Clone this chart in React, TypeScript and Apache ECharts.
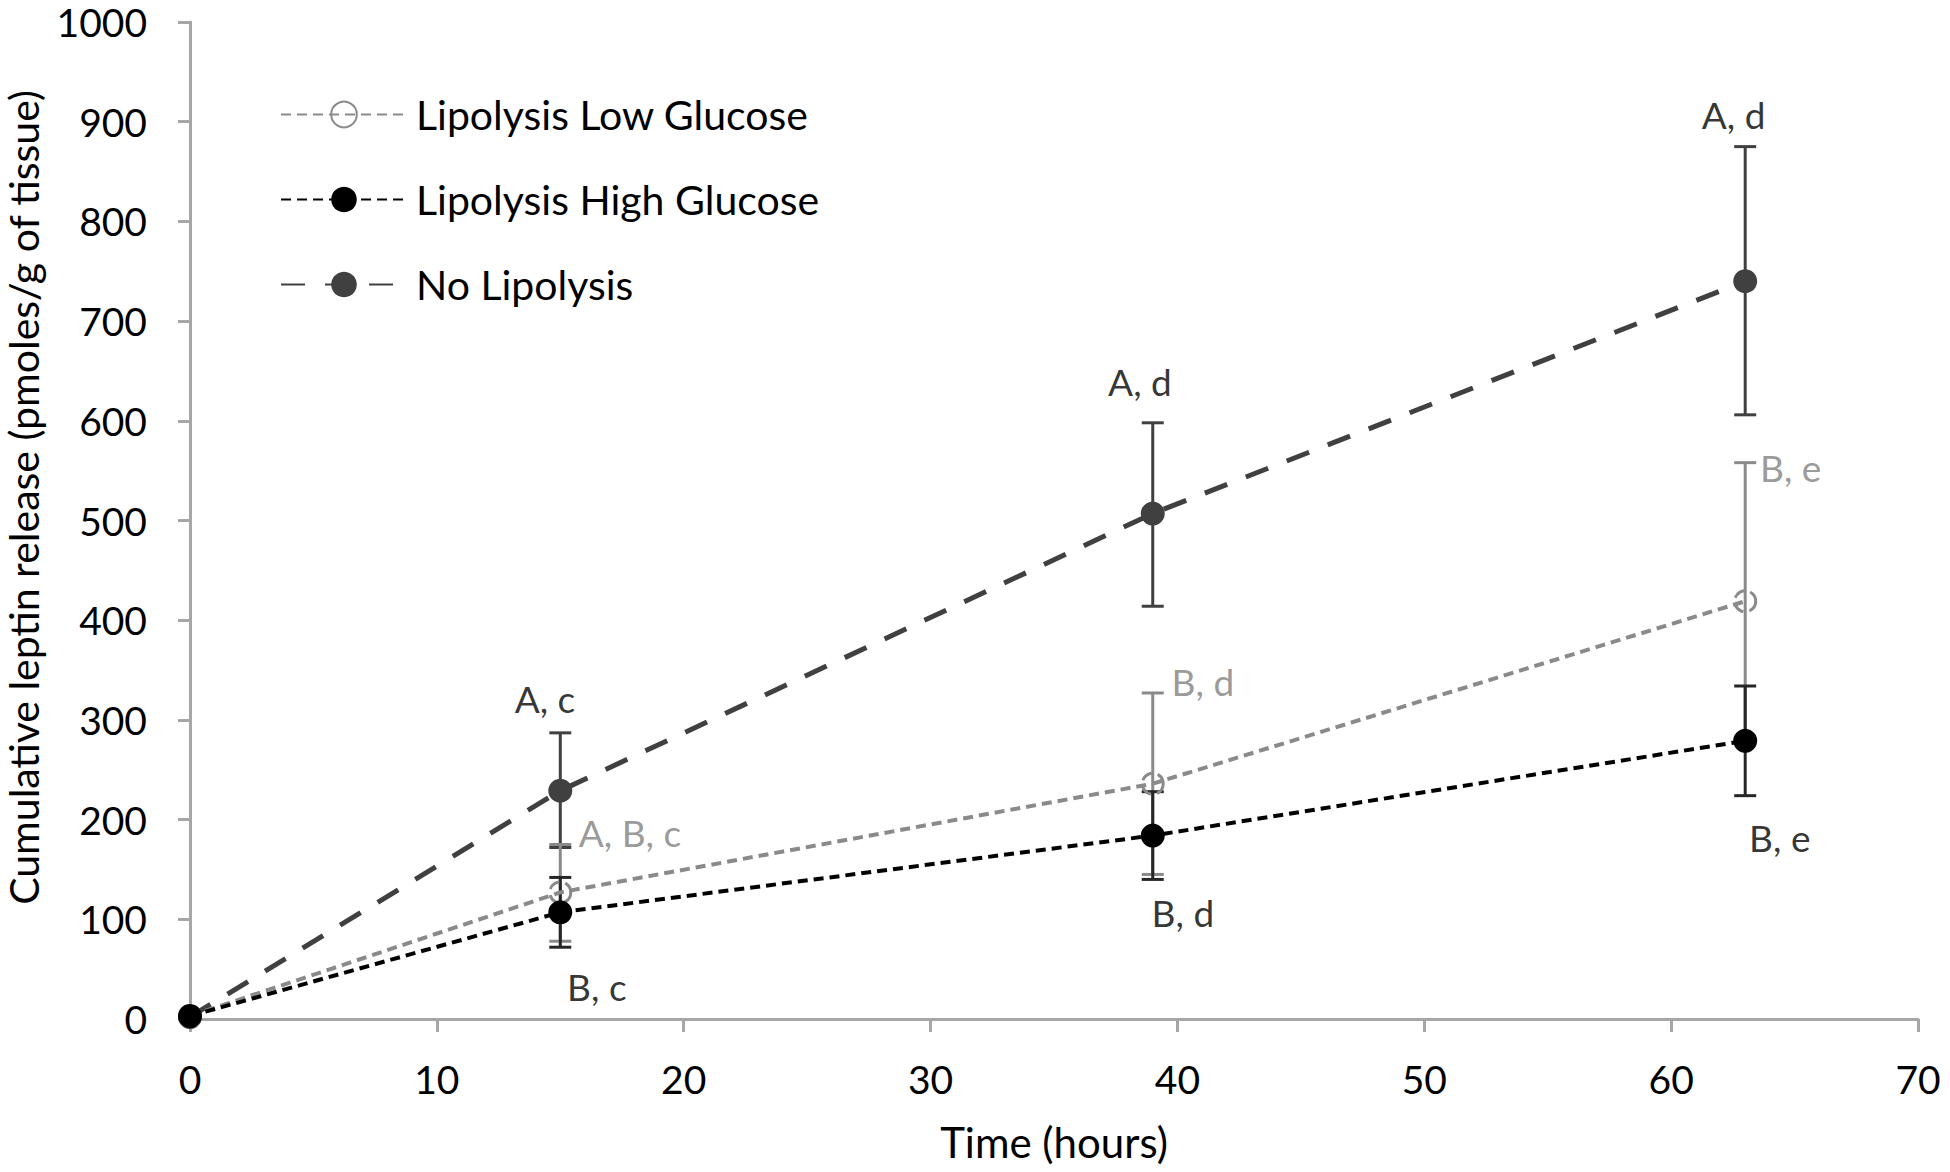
import React, { useEffect, useRef } from "react";
import * as echarts from "echarts";

const xTicks = { min: 0, max: 70, interval: 10 };
const yTicks = { min: 0, max: 1000, interval: 100 };

const seriesNames = ["Lipolysis Low Glucose", "Lipolysis High Glucose", "No Lipolysis"];
const hours = [0, 15, 39, 63];
const lowGlucose = [3, 127, 236, 419];
const highGlucose = [3, 107, 184, 279];
const noLipolysis = [2, 229, 507, 740];

// error bars: [hour, lower, upper]
const lowGlucoseErr = [[15, 78, 175], [39, 145, 327], [63, 280, 558]];
const highGlucoseErr = [[15, 72, 142], [39, 140, 228], [63, 224, 334]];
const noLipolysisErr = [[15, 172, 287], [39, 414, 598], [63, 606, 875]];

// annotations: [hour, value, text, colorKey]
const annotations: [number, number, string, string][] = [
  [14.38, 321, "A, c", "black"],
  [17.82, 187, "A, B, c", "gray"],
  [16.48, 33, "B, c", "black"],
  [38.48, 639, "A, d", "black"],
  [41.03, 339, "B, d", "gray"],
  [40.22, 107, "B, d", "black"],
  [62.53, 907, "A, d", "black"],
  [64.84, 553, "B, e", "gray"],
  [64.4, 182, "B, e", "black"],
];

const FONT = "Lato";
const GRAY = "#8a8a8a";
const DARK = "#404040";
const BLACK = "#000000";
const AXIS = "#a6a6a6";

function pairs(xs: number[], ys: number[]) {
  return xs.map((x, i) => [x, ys[i]]);
}

function errRender(color: string, lw: number) {
  return (params: any, api: any) => {
    const x = api.value(0);
    const lo = api.coord([x, api.value(1)]);
    const hi = api.coord([x, api.value(2)]);
    const hw = 11;
    const style = { stroke: color, lineWidth: lw };
    return {
      type: "group",
      children: [
        { type: "line", shape: { x1: lo[0], y1: lo[1], x2: hi[0], y2: hi[1] }, style },
        { type: "line", shape: { x1: lo[0] - hw, y1: lo[1], x2: lo[0] + hw, y2: lo[1] }, style },
        { type: "line", shape: { x1: hi[0] - hw, y1: hi[1], x2: hi[0] + hw, y2: hi[1] }, style },
      ],
    };
  };
}

export default function App() {
  const ref = useRef<HTMLDivElement>(null);
  useEffect(() => {
    if (!ref.current) return;
    const chart = echarts.init(ref.current, null, { renderer: "svg" });
    const option: any = {
      animation: false,
      backgroundColor: "#ffffff",
      textStyle: { fontFamily: FONT },
      grid: { left: 190, right: 32, top: 22, bottom: 153, containLabel: false, outerBoundsMode: "none" },
      legend: {
        orient: "vertical",
        left: 275,
        top: 89,
        itemWidth: 126,
        itemHeight: 32,
        itemGap: 44,
        data: seriesNames,
        textStyle: { fontSize: 41, fontFamily: FONT, color: "#000", padding: [0, 0, 0, 4] },
      },
      xAxis: {
        type: "value",
        min: xTicks.min,
        max: xTicks.max,
        interval: xTicks.interval,
        name: "Time (hours)",
        nameLocation: "middle",
        nameGap: 102,
        nameTextStyle: { fontSize: 42, fontFamily: FONT, color: "#000" },
        axisLine: { lineStyle: { color: AXIS, width: 3 } },
        axisTick: { show: true, length: 13, lineStyle: { color: AXIS, width: 3 } },
        splitLine: { show: false },
        axisLabel: { fontSize: 39, fontFamily: FONT, color: "#000", margin: 40 },
      },
      yAxis: {
        type: "value",
        min: yTicks.min,
        max: yTicks.max,
        interval: yTicks.interval,
        name: "Cumulative leptin release (pmoles/g of tissue)",
        nameLocation: "middle",
        nameGap: 142,
        nameTextStyle: { fontSize: 41, fontFamily: FONT, color: "#000", padding: [0, 0, 0, 46], lineHeight: 44 },
        axisLine: { show: true, lineStyle: { color: AXIS, width: 3 } },
        axisTick: { show: true, length: 12, lineStyle: { color: AXIS, width: 3 } },
        splitLine: { show: false },
        axisLabel: {
          fontSize: 39,
          fontFamily: FONT,
          color: "#000",
          margin: 43,
          formatter: (v: number) => String(v),
        },
      },
      series: [
        {
          type: "custom",
          name: "errNo",
          renderItem: errRender(DARK, 3),
          data: noLipolysisErr,
          encode: { x: 0, y: [1, 2] },
          z: 1,
          silent: true,
        },
        {
          type: "custom",
          name: "errLow",
          renderItem: errRender(GRAY, 3),
          data: lowGlucoseErr,
          encode: { x: 0, y: [1, 2] },
          z: 1,
          silent: true,
        },
        {
          type: "custom",
          name: "errHigh",
          renderItem: errRender("#262626", 3),
          data: highGlucoseErr,
          encode: { x: 0, y: [1, 2] },
          z: 1,
          silent: true,
        },
        {
          type: "line",
          name: seriesNames[2],
          data: pairs(hours, noLipolysis),
          symbol: "circle",
          symbolSize: 24,
          itemStyle: { color: DARK },
          lineStyle: { color: DARK, width: 5, type: [24, 20] },
          z: 3,
        },
        {
          type: "line",
          name: seriesNames[0],
          data: pairs(hours, lowGlucose),
          symbol: "circle",
          symbolSize: 21,
          itemStyle: { color: "rgba(255,255,255,0)", borderColor: GRAY, borderWidth: 3, borderType: "dashed" },
          lineStyle: { color: GRAY, width: 4, type: [10, 6] },
          z: 3,
        },
        {
          type: "line",
          name: seriesNames[1],
          data: pairs(hours, highGlucose),
          symbol: "circle",
          symbolSize: 24,
          itemStyle: { color: BLACK },
          lineStyle: { color: BLACK, width: 4, type: [10, 6] },
          z: 4,
        },
        {
          type: "scatter",
          name: "annotations",
          symbolSize: 0,
          silent: true,
          z: 5,
          data: annotations.map((a) => ({
            value: [a[0], a[1]],
            name: a[2],
            label: { color: a[3] === "gray" ? "#808080" : "#000" },
          })),
          label: {
            show: true,
            position: "inside",
            formatter: "{b}",
            fontSize: 37,
            fontFamily: FONT,
          },
        },
      ],
    };
    chart.setOption(option);
    return () => chart.dispose();
  }, []);
  return (
    <div
      ref={ref}
      style={{ position: "fixed", left: 0, top: 0, width: 1950, height: 1172, background: "#fff" }}
    />
  );
}
